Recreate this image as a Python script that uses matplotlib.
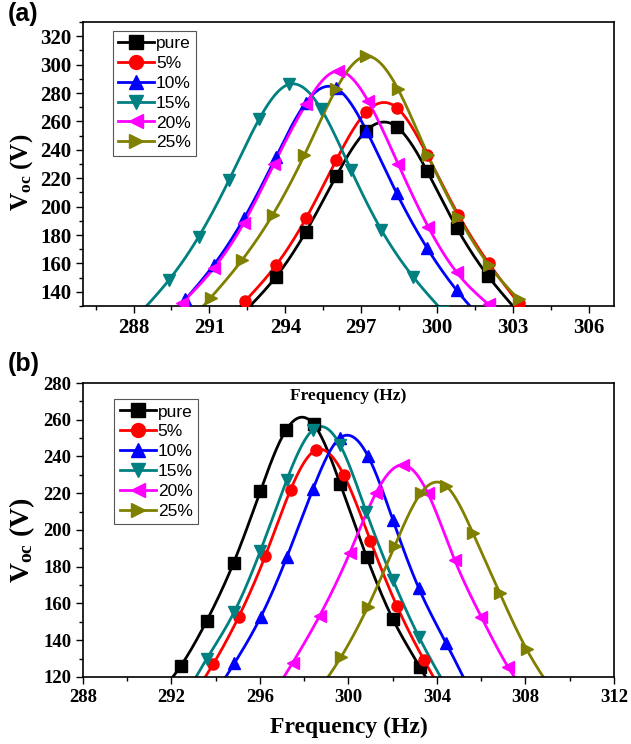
import numpy as np
import matplotlib
matplotlib.use("Agg")
import matplotlib.pyplot as plt
from matplotlib.ticker import MultipleLocator

plt.rcParams['mathtext.fontset'] = 'custom'
plt.rcParams['mathtext.rm'] = 'Liberation Serif:bold'
plt.rcParams['mathtext.bf'] = 'Liberation Serif:bold'
plt.rcParams['mathtext.it'] = 'Liberation Serif:bold:italic'

labels = ["pure", "5%", "10%", "15%", "20%", "25%"]
colors = ["#000000", "#FF0000", "#0000FF", "#008080", "#FF00FF", "#808000"]
markers = ["s", "o", "^", "v", "<", ">"]

# ---- Panel (a) data ----
a_pure_x = [292.44, 293.63, 294.82, 296.01, 297.21, 298.40, 299.61, 300.78, 302.01, 303.20]
a_pure_y = [127, 150.5, 182.4, 221.3, 253.5, 256.3, 225.0, 185.2, 151.4, 126]
a_5_x = [292.41, 293.63, 294.82, 296.01, 297.21, 298.40, 299.61, 300.85, 302.04, 303.23]
a_5_y = [133.4, 158.6, 191.7, 232.5, 266.8, 269.8, 236.5, 194.1, 160.3, 132]
a_10_x = [290.05, 291.18, 292.37, 293.63, 294.82, 296.01, 297.21, 298.40, 299.61, 300.78, 301.97]
a_10_y = [134.6, 159.1, 191.7, 234.8, 273.3, 283.4, 253.5, 209.7, 170.8, 141.1, 117]
a_15_x = [288.20, 289.39, 290.58, 291.77, 292.97, 294.16, 295.42, 296.61, 297.80, 299.06, 300.25]
a_15_y = [124, 148.1, 178.9, 218.5, 261.7, 286.2, 268.7, 225.5, 183.6, 150.5, 126]
a_20_x = [289.90, 291.18, 292.37, 293.56, 294.82, 296.08, 297.27, 298.46, 299.65, 300.78, 302.04]
a_20_y = [131.8, 156.8, 188.7, 230.2, 272.2, 295.5, 274.5, 230.2, 185.9, 153.7, 131.1]
a_25_x = [289.85, 291.05, 292.28, 293.50, 294.75, 296.01, 297.21, 298.46, 299.65, 300.85, 302.04, 303.23]
a_25_y = [112, 135.8, 162.1, 194.1, 236.0, 282.7, 305.9, 282.7, 236.0, 192.9, 159.1, 134.6]

# ---- Panel (b) data ----
b_pure_x = [291.22, 292.42, 293.59, 294.81, 296.02, 297.18, 298.43, 299.63, 300.83, 302.01, 303.22, 304.42]
b_pure_y = [108, 126.0, 150.5, 182.2, 221.2, 254.4, 257.5, 225.0, 185.1, 151.4, 125.6, 100]
b_5_x = [292.70, 293.89, 295.04, 296.24, 297.38, 298.53, 299.79, 300.99, 302.19, 303.41, 304.60]
b_5_y = [105, 127.1, 152.8, 185.9, 221.8, 243.5, 229.9, 194.2, 158.6, 129.3, 104]
b_10_x = [293.65, 294.84, 296.04, 297.21, 298.40, 299.60, 300.88, 302.01, 303.18, 304.42, 305.60]
b_10_y = [105, 127.4, 152.8, 185.1, 222.4, 249.9, 240.3, 205.4, 168.3, 138.3, 110]
b_15_x = [292.40, 293.59, 294.84, 296.02, 297.21, 298.38, 299.62, 300.80, 302.01, 303.18, 304.40]
b_15_y = [105, 129.8, 155.5, 188.7, 227.2, 254.4, 246.3, 210.0, 172.8, 141.9, 115]
b_20_x = [296.30, 297.48, 298.70, 300.05, 301.25, 302.46, 303.59, 304.80, 306.01, 307.22, 308.40]
b_20_y = [105, 127.8, 153.4, 187.3, 220.3, 235.4, 220.0, 183.7, 152.5, 125.3, 105]
b_25_x = [298.50, 299.67, 300.88, 302.09, 303.29, 304.42, 305.63, 306.84, 308.05, 309.25]
b_25_y = [110, 131.0, 158.3, 191.3, 220.3, 223.9, 198.2, 165.6, 135.1, 112]

panel_a = [(a_pure_x, a_pure_y), (a_5_x, a_5_y), (a_10_x, a_10_y),
           (a_15_x, a_15_y), (a_20_x, a_20_y), (a_25_x, a_25_y)]
panel_b = [(b_pure_x, b_pure_y), (b_5_x, b_5_y), (b_10_x, b_10_y),
           (b_15_x, b_15_y), (b_20_x, b_20_y), (b_25_x, b_25_y)]


def natural_spline(x, y, n=300):
    x = np.asarray(x, float)
    y = np.asarray(y, float)
    m = len(x)
    h = np.diff(x)
    A = np.zeros((m, m))
    r = np.zeros(m)
    A[0, 0] = 1
    A[-1, -1] = 1
    for i in range(1, m - 1):
        A[i, i - 1] = h[i - 1]
        A[i, i] = 2 * (h[i - 1] + h[i])
        A[i, i + 1] = h[i]
        r[i] = 3 * ((y[i + 1] - y[i]) / h[i] - (y[i] - y[i - 1]) / h[i - 1])
    c = np.linalg.solve(A, r)
    b = np.zeros(m - 1)
    d = np.zeros(m - 1)
    for i in range(m - 1):
        b[i] = (y[i + 1] - y[i]) / h[i] - h[i] * (2 * c[i] + c[i + 1]) / 3
        d[i] = (c[i + 1] - c[i]) / (3 * h[i])
    xs = np.linspace(x[0], x[-1], n)
    idx = np.clip(np.searchsorted(x, xs) - 1, 0, m - 2)
    dx = xs - x[idx]
    ys = y[idx] + b[idx] * dx + c[idx] * dx ** 2 + d[idx] * dx ** 3
    return xs, ys


fig = plt.figure(figsize=(6.31, 7.44), dpi=100)
ax_a = fig.add_axes([0.1315, 0.5887, 0.8415, 0.3817])
ax_b = fig.add_axes([0.1315, 0.0901, 0.8415, 0.3951])


def draw(ax, data, xlim, ylim, xmaj, xmin, ymaj, ymin, leg_anchor, tsize, lsize, lab_y):
    handles = []
    for (x, y), lab, col, mk in zip(data, labels, colors, markers):
        xs, ys = natural_spline(x, y)
        ax.plot(xs, ys, color=col, lw=2.0, zorder=2)
        ax.plot(x, y, ls="none", marker=mk, color=col, ms=8, zorder=3)
        h, = ax.plot([], [], color=col, lw=2.0, marker=mk, ms=10)
        handles.append(h)
    ax.set_xlim(*xlim)
    ax.set_ylim(*ylim)
    ax.xaxis.set_major_locator(MultipleLocator(xmaj))
    ax.xaxis.set_minor_locator(MultipleLocator(xmin))
    ax.yaxis.set_major_locator(MultipleLocator(ymaj))
    ax.yaxis.set_minor_locator(MultipleLocator(ymin))
    ax.tick_params(which="major", direction="out", length=5, width=1.0)
    ax.tick_params(which="minor", direction="out", length=3, width=1.0)
    for sp in ax.spines.values():
        sp.set_linewidth(1.2)
    for t in ax.get_xticklabels() + ax.get_yticklabels():
        t.set_fontfamily("Liberation Serif")
        t.set_fontweight("bold")
        t.set_fontsize(tsize)
    ax.set_ylabel(r"$\mathbf{V_{oc}}$ (V)", family="Liberation Serif",
                  weight="bold", size=lsize)
    ax.yaxis.label.set_verticalalignment("center")
    ax.yaxis.set_label_coords(-0.115, lab_y)
    leg = ax.legend(handles, labels, loc="upper left", bbox_to_anchor=leg_anchor,
                    prop=dict(family="Liberation Sans", size=12.5),
                    handlelength=2.1, handletextpad=0.1, labelspacing=0.27,
                    borderpad=0.3, borderaxespad=0, fancybox=False,
                    edgecolor="#555555", framealpha=1)
    leg.get_frame().set_linewidth(0.8)


draw(ax_a, panel_a, (286, 307), (130, 330), 3, 1.5, 20, 10, (0.056, 0.969), 15, 18, 0.47)
draw(ax_b, panel_b, (288, 312), (120, 280), 4, 2, 20, 10, (0.059, 0.945), 13.5, 20, 0.466)

ax_b.set_xlabel("Frequency (Hz)", family="Liberation Serif", weight="bold", size=17)
ax_b.xaxis.set_label_coords(0.5, -0.135)
ax_b.text(0.5, 0.955, "Frequency (Hz)", transform=ax_b.transAxes, ha="center",
          va="center", family="Liberation Serif", weight="bold", size=12.5)

fig.text(0.012, 0.997, "(a)", ha="left", va="top", family="Liberation Sans",
         weight="bold", size=18)
fig.text(0.012, 0.527, "(b)", ha="left", va="top", family="Liberation Sans",
         weight="bold", size=18)

fig.savefig("out.png", dpi=100)
